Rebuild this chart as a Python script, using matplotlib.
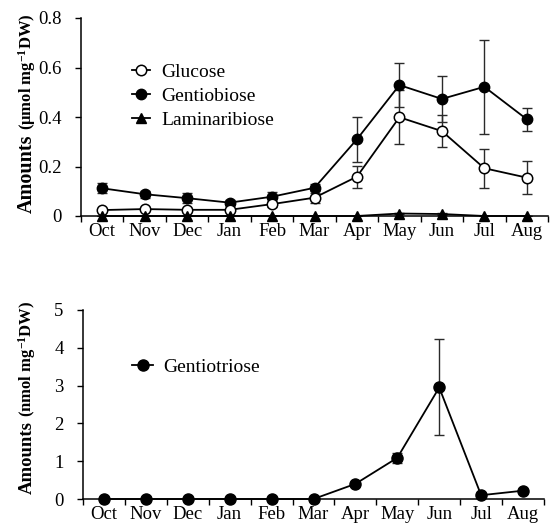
import matplotlib
matplotlib.use("Agg")
import matplotlib.pyplot as plt
import numpy as np

months = ["Oct", "Nov", "Dec", "Jan", "Feb", "Mar", "Apr", "May", "Jun", "Jul", "Aug"]

glucose = [0.024, 0.028, 0.025, 0.025, 0.048, 0.074, 0.159, 0.399, 0.343, 0.193, 0.155]
glucose_err = [0.005, 0.005, 0.005, 0.005, 0.01, 0.02, 0.045, 0.11, 0.066, 0.078, 0.067]
gentiobiose = [0.112, 0.088, 0.072, 0.054, 0.078, 0.114, 0.31, 0.529, 0.473, 0.522, 0.391]
gentiobiose_err = [0.02, 0.015, 0.02, 0.01, 0.02, 0.015, 0.09, 0.088, 0.093, 0.19, 0.047]
laminaribiose = [0.0, 0.0, 0.0, 0.0, 0.0, 0.0, 0.0, 0.01, 0.008, 0.0, 0.0]
laminaribiose_err = [0, 0, 0, 0, 0, 0, 0, 0.003, 0.003, 0, 0]

gentiotriose = [0.0, 0.0, 0.0, 0.0, 0.0, 0.0, 0.40, 1.09, 2.95, 0.10, 0.22]
gentiotriose_err = [0, 0, 0, 0, 0, 0, 0.03, 0.13, 1.27, 0.02, 0.03]

top_yticks = [0, 0.2, 0.4, 0.6, 0.8]
top_yticklabels = ["0", "0.2", "0.4", "0.6", "0.8"]
bot_yticks = [0, 1, 2, 3, 4, 5]

plt.rcParams['font.family'] = ['Liberation Serif', 'DejaVu Serif']
plt.rcParams['mathtext.fontset'] = 'custom'
plt.rcParams['mathtext.rm'] = 'Liberation Serif'
plt.rcParams['mathtext.it'] = 'Liberation Serif:italic'
plt.rcParams['mathtext.bf'] = 'Liberation Serif:bold'

W, H = 550, 524
fig = plt.figure(figsize=(5.5, 5.24), dpi=100)

def frac_axes(l, r, t, b):
    return [l / W, (H - b) / H, (r - l) / W, (b - t) / H]

ax1 = fig.add_axes(frac_axes(81, 548, 18, 216))
ax2 = fig.add_axes(frac_axes(83, 544, 310, 499))

x = np.arange(len(months))
lw = 1.3
ecol = '#2a2a2a'
TICK_FS = 13.5
LEG_FS = 14

def style(ax, ylim, yticks, yticklabels):
    ax.set_xlim(-0.5, len(months) - 0.5)
    ax.set_ylim(*ylim)
    for s in ['top', 'right']:
        ax.spines[s].set_visible(False)
    for s in ['left', 'bottom']:
        ax.spines[s].set_linewidth(1.1)
    ax.set_xticks(np.arange(-0.5, len(months), 1))
    ax.set_xticklabels([])
    ax.tick_params(axis='x', which='major', length=4, width=1.0, direction='out')
    ax.set_xticks(x, minor=True)
    ax.set_xticklabels(months, minor=True, fontsize=TICK_FS)
    ax.tick_params(axis='x', which='minor', length=0, pad=5)
    ax.set_yticks(yticks)
    ax.set_yticklabels(yticklabels, fontsize=TICK_FS)
    ax.tick_params(axis='y', length=4, width=1.0, direction='out', pad=10)

# Top panel
eb = dict(fmt='none', ecolor=ecol, elinewidth=1.0, capsize=3.8, capthick=1.0, zorder=2)
ax1.errorbar(x, gentiobiose, yerr=gentiobiose_err, **eb)
ax1.errorbar(x, glucose, yerr=glucose_err, **eb)
ax1.errorbar(x, laminaribiose, yerr=laminaribiose_err, **eb)
ax1.plot(x, glucose, '-o', color='black', mfc='white', mec='black', mew=1.1, ms=7.5, lw=lw, label='Glucose', zorder=4, clip_on=False)
ax1.plot(x, gentiobiose, '-o', color='black', mfc='black', ms=7.5, lw=lw, label='Gentiobiose', zorder=3, clip_on=False)
ax1.plot(x, laminaribiose, '-^', color='black', mfc='black', ms=7.5, lw=lw, label='Laminaribiose', zorder=5, clip_on=False)
style(ax1, (0, 0.8), top_yticks, top_yticklabels)
ax1.legend(loc='upper left', bbox_to_anchor=(0.109, 0.77), frameon=False, fontsize=LEG_FS,
           handlelength=0.95, handletextpad=0.55, labelspacing=0.33, borderpad=0, borderaxespad=0)

# Bottom panel
ax2.errorbar(x, gentiotriose, yerr=gentiotriose_err, **eb)
ax2.plot(x, gentiotriose, '-o', color='black', mfc='black', ms=8, lw=lw, label='Gentiotriose', zorder=3, clip_on=False)
style(ax2, (0, 5), bot_yticks, [str(v) for v in bot_yticks])
ax2.legend(loc='upper left', bbox_to_anchor=(0.106, 0.743), frameon=False, fontsize=LEG_FS,
           handlelength=1.1, handletextpad=0.5, borderpad=0, borderaxespad=0)

# Y labels (two parts: larger "Amounts", smaller unit)
fig.canvas.draw()
renderer = fig.canvas.get_renderer()

def ylab(xb, y_amount, unit, fs_a, fs_u):
    t = fig.text(xb / W, (H - y_amount) / H, "Amounts", rotation=90, rotation_mode='anchor',
                 ha='left', va='baseline', fontsize=fs_a, fontweight='bold')
    bb = t.get_window_extent(renderer)
    top_px = bb.y1 + 4
    fig.text(xb / W, top_px / H, unit, rotation=90, rotation_mode='anchor',
             ha='left', va='baseline', fontsize=fs_u, fontweight='bold')

ylab(32, 213, r"($\mathbf{\mu}$mol mg$^{\mathbf{-1}}$DW)", 14.5, 12)
ylab(32, 494, r"(nmol mg$^{\mathbf{-1}}$DW)", 13.5, 12)

fig.savefig("out.png", dpi=100)
